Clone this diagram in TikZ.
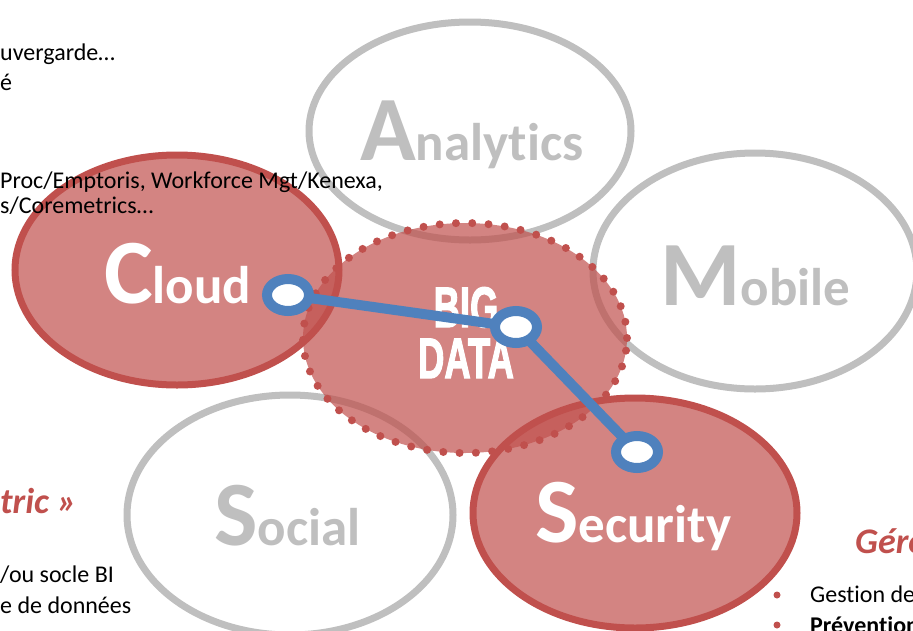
\documentclass[tikz,border=0pt]{standalone}
\usepackage{fontspec}
\setmainfont{Carlito}[Ligatures=CommonOff]
\newfontfamily\bdfont{Liberation Sans}[FakeBold=2.5]
\usepackage{graphicx}
\usetikzlibrary{shapes.geometric}
\definecolor{bdred}{HTML}{C0504D}
\definecolor{ringgray}{HTML}{BFBFBF}
\definecolor{bblue}{HTML}{4F81BD}
\tikzset{
  oval/.style={ellipse, inner sep=0pt, outer sep=0pt, line width=7pt},
  grayoval/.style={oval, draw=ringgray},
  redoval/.style={oval, draw=bdred, fill=bdred, fill opacity=0.7},
  dotoval/.style={ellipse, inner sep=0pt, outer sep=0pt, fill=bdred, fill opacity=0.7, draw=bdred, line width=8pt, line cap=round, dash pattern=on 0pt off 16.3pt},
  ring/.style={ellipse, inner sep=0pt, minimum width=42pt, minimum height=32pt, draw=bblue, line width=10pt, fill=white},
  link/.style={draw=bblue, line width=10pt},
  bigtitle/.style={anchor=base west, inner sep=0pt, font=\bfseries},
  body/.style={anchor=base west, inner sep=0pt, font=\fontsize{24}{28}\selectfont},
  heading/.style={anchor=base west, inner sep=0pt, text=bdred, font=\fontsize{36}{40}\selectfont\bfseries\itshape},
  bdtxt/.style={anchor=base, inner sep=0pt, text=white, font=\fontsize{57}{57}\bdfont\bfseries},
  bulletdot/.style={circle, fill=bdred, inner sep=0pt, minimum size=7pt}
}
\newcommand{\BigLet}[1]{{\fontsize{92}{92}\selectfont #1}}
\newcommand{\SmLet}[1]{{\fontsize{53}{53}\selectfont #1}}
\begin{document}
\begin{tikzpicture}[x=1pt,y=-1pt]
\useasboundingbox (0,0) rectangle (913,630);
\clip (0,0) rectangle (913,630);
% gray ellipses
\node[grayoval, minimum width=322pt, minimum height=218pt] (analytics) at (470,131) {};
\node[grayoval, minimum width=324pt, minimum height=236pt] (mobile) at (755,271) {};
\node[grayoval, minimum width=326pt, minimum height=240pt] (social) at (290,515) {};
% red ellipses
\node[redoval, minimum width=324pt, minimum height=230pt] (cloud) at (177,270) {};
\node[redoval, minimum width=324pt, minimum height=230pt] (security) at (635,513) {};
\node[dotoval, minimum width=324pt, minimum height=230pt] (bigdata) at (465,338) {};
% titles
\node[bigtitle, text=ringgray] (tA) at (360,160) {\BigLet{A}\SmLet{nalytics}};
\node[bigtitle, text=ringgray] (tM) at (660,305) {\BigLet{M}\SmLet{obile}};
\node[bigtitle, text=ringgray] (tS) at (214,545) {\BigLet{S}\SmLet{ocial}};
\node[bigtitle, text=white] (tC) at (104,303) {\BigLet{C}\SmLet{loud}};
\node[bigtitle, text=white] (tSe) at (535,542) {\BigLet{S}\SmLet{ecurity}};
\node[bdtxt] (big) at (466,327) {\scalebox{0.64}[1]{BIG}};
\node[bdtxt] (data) at (466,378) {\scalebox{0.64}[1]{DATA}};
% side texts
\node[body] (l1) at (0,60) {uvergarde…};
\node[body] (l2) at (0,90) {é};
\node[body] (l3) at (0,188) {Proc/Emptoris, Workforce Mgt/Kenexa,};
\node[body] (l4) at (0,213) {s/Coremetrics…};
\node[heading] (h1) at (0,513) {tric »};
\node[body] (l5) at (0,582) {/ou socle BI};
\node[body] (l6) at (0,613) {e de données};
\node[heading] (h2) at (855,553) {Géro};
\node[bulletdot] (b1) at (777,595) {};
\node[body] (r1) at (810,602) {Gestion de};
\node[bulletdot] (b2) at (777,625) {};
\node[body, font=\fontsize{24}{28}\selectfont\bfseries] (r2) at (810,633) {Prévention};
% blue connector
\coordinate (p1) at (288,295);
\coordinate (p2) at (516,327);
\coordinate (p3) at (637,452);
\draw[link] (p1) -- (p2) -- (p3);
\node[ring] (k1) at (p1) {};
\node[ring] (k2) at (p2) {};
\node[ring] (k3) at (p3) {};
\end{tikzpicture}
\end{document}
